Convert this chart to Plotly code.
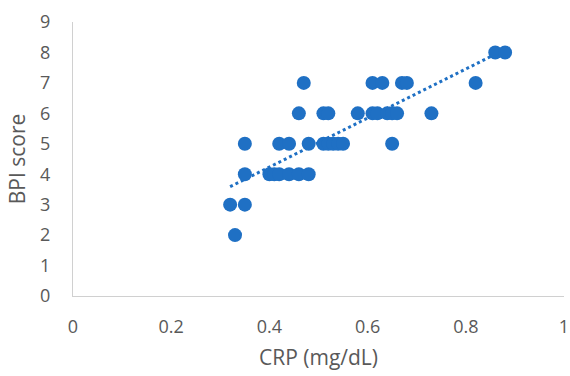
import numpy as np
import plotly.graph_objects as go

# CRP (mg/dL) and BPI score per patient
crp = [0.86, 0.88,
       0.47, 0.61, 0.63, 0.67, 0.68, 0.82,
       0.46, 0.51, 0.52, 0.58, 0.61, 0.62, 0.64, 0.65, 0.66, 0.73,
       0.35, 0.42, 0.44, 0.48, 0.51, 0.52, 0.53, 0.54, 0.55, 0.65,
       0.35, 0.40, 0.41, 0.42, 0.44, 0.46, 0.48,
       0.32, 0.35,
       0.33]
bpi = [8, 8,
       7, 7, 7, 7, 7, 7,
       6, 6, 6, 6, 6, 6, 6, 6, 6, 6,
       5, 5, 5, 5, 5, 5, 5, 5, 5, 5,
       4, 4, 4, 4, 4, 4, 4,
       3, 3,
       2]
x_ticks = [0, 0.2, 0.4, 0.6, 0.8, 1]
x_tick_text = ["0", "0.2", "0.4", "0.6", "0.8", "1"]
y_ticks = list(range(0, 10))

blue = "#1F70C4"
grey_text = "#595959"
axis_grey = "#D0D0D0"

# least-squares linear trendline
slope, intercept = np.polyfit(crp, bpi, 1)
tx = np.array([min(crp), max(crp)])
ty = slope * tx + intercept

fig = go.Figure()
fig.add_trace(go.Scatter(x=tx, y=ty, mode="lines",
                         line=dict(color=blue, width=3, dash="dot"),
                         hoverinfo="skip", showlegend=False))
fig.add_trace(go.Scatter(x=crp, y=bpi, mode="markers",
                         marker=dict(color=blue, size=14, line=dict(width=0)),
                         showlegend=False))

font_family = "Open Sans, Liberation Sans, sans-serif"
fig.update_layout(
    width=570, height=376,
    margin=dict(l=73, r=6, t=22, b=80),
    paper_bgcolor="white", plot_bgcolor="white",
    font=dict(family=font_family, color=grey_text, size=18),
    xaxis=dict(range=[0, 1], tickvals=x_ticks, ticktext=x_tick_text,
               showgrid=False, zeroline=False, showline=True,
               linecolor=axis_grey, linewidth=1.3, automargin=False,
               ticks="", ticklabelstandoff=14,
               tickfont=dict(size=18, color=grey_text),
               title=dict(text="CRP (mg/dL)", standoff=13,
                          font=dict(size=21, color=grey_text))),
    yaxis=dict(range=[0, 9], tickvals=y_ticks,
               showgrid=False, zeroline=False, showline=True,
               linecolor=axis_grey, linewidth=1.3, automargin=False,
               ticks="", ticklabelstandoff=18,
               tickfont=dict(size=18, color=grey_text),
               title=dict(text="BPI score", standoff=8,
                          font=dict(size=21, color=grey_text))),
)

fig.write_html("out.html")
